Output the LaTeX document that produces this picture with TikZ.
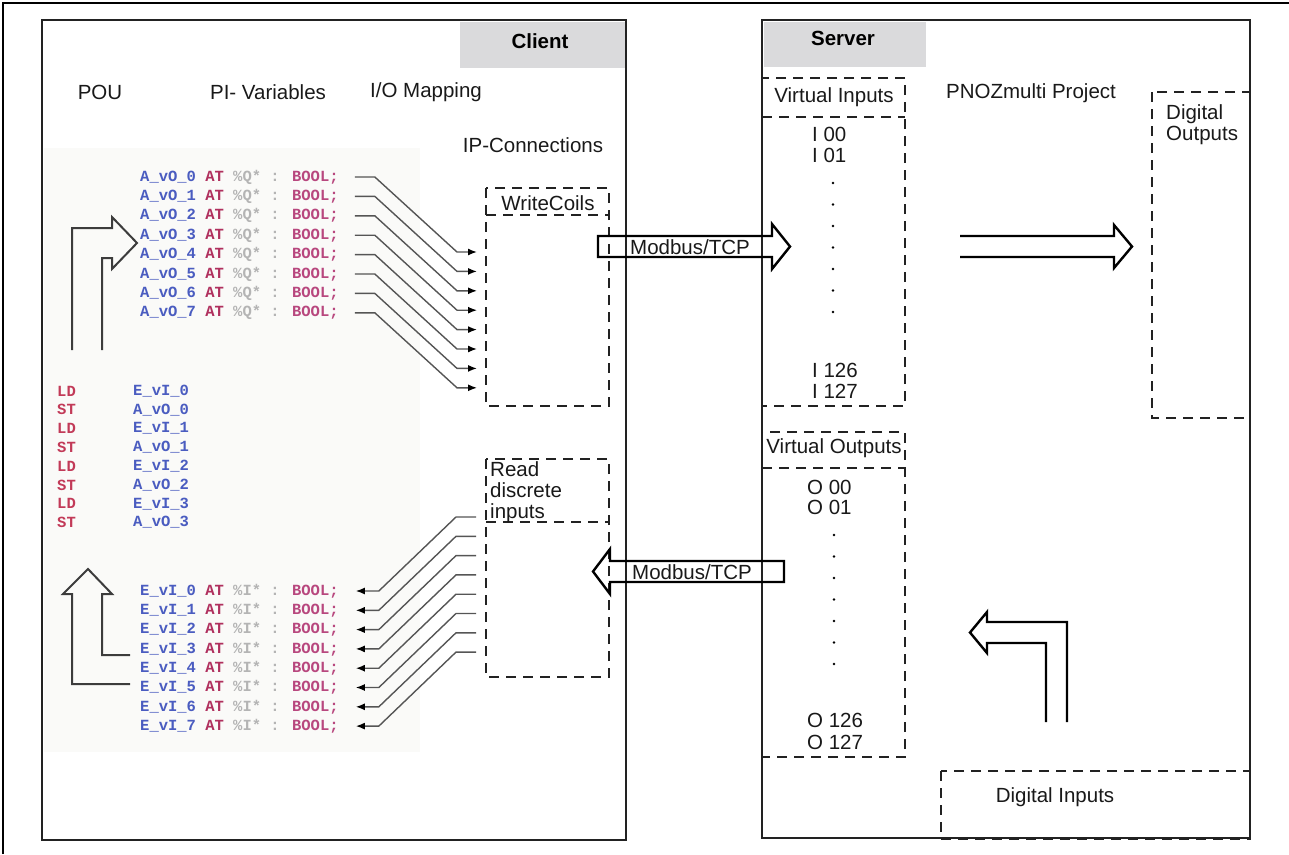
\documentclass[tikz,border=0pt]{standalone}
\usepackage{fontspec}
\setmainfont{Liberation Sans}
\newfontfamily\codefont{Liberation Mono}
\usetikzlibrary{calc,arrows.meta}

\definecolor{frame}{HTML}{222222}
\definecolor{tagfill}{HTML}{DADADC}
\definecolor{varblue}{HTML}{4A5CC0}
\definecolor{kwred}{HTML}{B0305E}
\definecolor{addrgrey}{HTML}{B4B4B4}
\definecolor{typepink}{HTML}{B8477E}
\definecolor{ilred}{HTML}{C23A58}
\definecolor{paper}{HTML}{FAFAF8}
\definecolor{wiregrey}{HTML}{555555}
\definecolor{pouarrow}{HTML}{3C3C3C}

\newcommand{\qrow}[1]{\textcolor{varblue}{A\_vO\_#1} \textcolor{kwred}{AT} \textcolor{addrgrey}{\%Q* :} \textcolor{typepink}{BOOL;}}
\newcommand{\irow}[1]{\textcolor{varblue}{E\_vI\_#1} \textcolor{kwred}{AT} \textcolor{addrgrey}{\%I* :} \textcolor{typepink}{BOOL;}}

\begin{document}
\begin{tikzpicture}[x=1pt,y=-1pt,
  lbl/.style={font=\fontsize{20.5}{21}\selectfont, inner sep=0pt, text=black!90},
  tagtext/.style={font=\fontsize{20.5}{21}\selectfont\bfseries, inner sep=0pt},
  solidbox/.style={draw=frame, line width=2.6pt},
  dbox/.style={draw=frame, line width=2.6pt, dash pattern=on 10pt off 7pt},
  code/.style={font=\codefont\bfseries\fontsize{15.5}{18}\selectfont, inner sep=0pt, anchor=west},
  wire/.style={draw=wiregrey, line width=1.4pt, -{Latex[length=9pt,width=7pt,color=black]}},
  hollow/.style={draw=black, line width=2.4pt, line join=miter},
  pouhollow/.style={draw=pouarrow, line width=2pt, line join=miter},
  vdot/.style={fill=black, radius=1.4pt}
]
\useasboundingbox (0,0) rectangle (1289,854);

% page frame
\draw[line width=1.2pt] (3,854) -- (3,3) -- (1289,3);

% ---------------- client side ----------------
\fill[paper] (44,148) rectangle (420,752);
\draw[solidbox] (42,20) rectangle (626,840);
\fill[tagfill] (460,21.5) rectangle (624.5,68);
\node[tagtext] (client) at (540,41) {Client};

\node[lbl] (pou)    at (100,92)  {POU};
\node[lbl] (pivars) at (268,92)  {PI- Variables};
\node[lbl] (iomap)  at (426,92)  {I/O Mapping};
\node[lbl] (ipconn) at (533,145) {IP-Connections};

% output variables
\foreach \k in {0,...,7}
  \node[code] (q\k) at (140,{177+19.4*\k}) {\qrow{\k}};

% instruction list
\foreach \k/\op/\arg in {0/LD/E\_vI\_0,1/ST/A\_vO\_0,2/LD/E\_vI\_1,3/ST/A\_vO\_1,
                         4/LD/E\_vI\_2,5/ST/A\_vO\_2,6/LD/E\_vI\_3,7/ST/A\_vO\_3}{
  \node[code, text=ilred]  (il\k)  at (57,{391+18.8*\k})  {\op};
  \node[code, text=varblue] (ila\k) at (133,{391+18.8*\k}) {\arg};
}

% input variables
\foreach \k in {0,...,7}
  \node[code] (e\k) at (140,{591+19.3*\k}) {\irow{\k}};

% IP connection boxes
\draw[dbox] (486,188) rectangle (609,406);
\draw[dbox] (486,215) -- (609,215);
\node[lbl] (wc) at (548,203) {WriteCoils};

\draw[dbox] (486,459) rectangle (609,677);
\draw[dbox] (486,522) -- (609,522);
\node[lbl, anchor=north west, align=left] (rdi) at (490,461) {Read\\discrete\\inputs};

% wires: outputs -> WriteCoils
\foreach \k in {0,...,7}{
  \coordinate (w\k) at (477,{252+19.4*\k});
  \draw[wire] ($(q\k.east)+(16,0)$) -- ++(20,0) -- ($(w\k)+(-20,0)$) -- (w\k);
}
% wires: Read discrete inputs -> input variables
\foreach \k in {0,...,7}{
  \coordinate (r\k) at (476,{517+19.3*\k});
  \draw[wire] (r\k) -- ++(-20,0) -- ($(e\k.east)+(40,0)$) -- ($(e\k.east)+(17,0)$);
}

% POU flow arrows
\draw[pouhollow] (72,350) -- (72,228) -- (112,228) -- (112,217) -- (137,243)
  -- (112,269) -- (112,258) -- (102,258) -- (102,350);
\draw[pouhollow] (130,684) -- (72,684) -- (72,594) -- (63,594) -- (88,569)
  -- (112,594) -- (102,594) -- (102,655) -- (130,655);

% ---------------- server side ----------------
\draw[solidbox] (762,20) rectangle (1250,838);
\fill[tagfill] (763.5,21.5) rectangle (926,67);
\node[tagtext] (server) at (843,38) {Server};

\node[lbl] (pnoz) at (1031,93) {PNOZmulti Project};

% virtual inputs
\draw[dbox] (762,78) rectangle (905,406);
\draw[dbox] (762,117) -- (905,117);
\node[lbl] (vin) at (834,97) {Virtual Inputs};
\node[lbl, anchor=west] (i00)  at (812,134) {I 00};
\node[lbl, anchor=west] (i01)  at (812,155) {I 01};
\foreach \y in {183,204.5,226,247.5,269,290.5,312}
  \fill[vdot] (833,\y) circle;
\node[lbl, anchor=west] (i126) at (812,370) {I 126};
\node[lbl, anchor=west] (i127) at (812,391) {I 127};

% virtual outputs
\draw[dbox] (762,432) rectangle (905,757);
\draw[dbox] (762,468) -- (905,468);
\node[lbl] (vout) at (834,448) {Virtual Outputs};
\node[lbl, anchor=west] (o00)  at (807,487) {O 00};
\node[lbl, anchor=west] (o01)  at (807,507) {O 01};
\foreach \y in {535,556.5,578,599.5,621,642.5,664}
  \fill[vdot] (834,\y) circle;
\node[lbl, anchor=west] (o126) at (807,720) {O 126};
\node[lbl, anchor=west] (o127) at (807,742) {O 127};

% digital outputs / inputs
\draw[dbox] (1152,92) rectangle (1250,418);
\node[lbl, anchor=north west, align=left] (dout) at (1166,104) {Digital\\Outputs};
\draw[dbox] (941,771) rectangle (1250,839);
\node[lbl] (din) at (1055,797) {Digital Inputs};

% ---------------- data flow arrows ----------------
\draw[hollow] (598,236) -- (772,236) -- (772,224) -- (790,246.5) -- (772,269)
  -- (772,257) -- (598,257) -- cycle;
\node[lbl] (mbtop) at (690,247) {Modbus/TCP};

\draw[hollow] (784,561) -- (610,561) -- (610,549) -- (593,571.5) -- (610,594)
  -- (610,582) -- (784,582) -- cycle;
\node[lbl] (mbbot) at (692,572) {Modbus/TCP};

\draw[hollow] (960,236) -- (1114,236) -- (1114,225) -- (1132,246.5) -- (1114,268)
  -- (1114,257) -- (960,257);

\draw[hollow] (1046,722) -- (1046,643) -- (987,643) -- (987,653) -- (970,632.5)
  -- (987,612) -- (987,622) -- (1067,622) -- (1067,722);
\end{tikzpicture}
\end{document}
